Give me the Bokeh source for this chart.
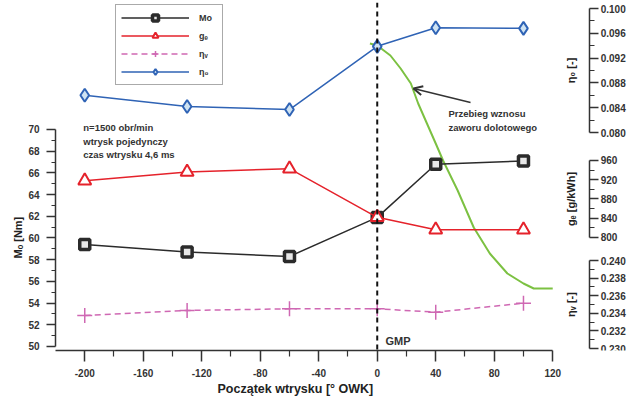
import numpy as np
from bokeh.plotting import figure
from bokeh.models import (Range1d, LinearAxis, FixedTicker, PrintfTickFormatter,
                          Span, Label, Arrow, OpenHead, Legend, LegendItem, Title)
from bokeh.embed import file_html
from bokeh.resources import INLINE
import math

# ---------------- data ----------------
start_deg = [-200, -130, -60, 0, 40, 100]
mo_nm = [59.4, 58.7, 58.3, 61.9, 66.8, 67.1]
ge_gkwh = [918, 936, 943, 842, 816, 816]
eta_v = [0.23375, 0.23432, 0.23451, 0.23451, 0.23413, 0.23515]
eta_0 = [0.0860, 0.0842, 0.0837, 0.0939, 0.0969, 0.0968]

lift_deg = [-5, 0, 9, 16, 23, 28, 34, 40, 45, 55, 66, 77, 89, 100, 107, 120]
lift_mm = [9.8, 9.72, 9.32, 8.8, 8.2, 7.4, 6.6, 5.8, 5.12, 3.92, 2.44, 1.4, 0.6, 0.2, 0.0, 0.0]

x_ticks = [-200, -160, -120, -80, -40, 0, 40, 80, 120]
mo_ticks = [50, 52, 54, 56, 58, 60, 62, 64, 66, 68, 70]
eta0_ticks = [0.080, 0.084, 0.088, 0.092, 0.096, 0.100]
ge_ticks = [800, 840, 880, 920, 960]
etav_ticks = [0.230, 0.232, 0.234, 0.236, 0.238, 0.240]

FONT = "Liberation Sans"
AX = "#333333"

X_END = 172.5        # frame reaches the right edge of the canvas
X_RIGHT_AXES = 145.3  # where the three right-hand axes stand
p = figure(width=629, height=406, output_backend="svg", toolbar_location=None,
           x_range=Range1d(-220, X_END), y_range=Range1d(49.631, 81.705),
           x_axis_type=None, y_axis_type=None,
           min_border_left=55, min_border_right=0, min_border_top=2, min_border_bottom=56)
p.outline_line_color = None
p.background_fill_color = "white"
p.border_fill_color = "white"
p.extra_y_ranges = {
    "eta0": Range1d(0.044839, 0.100968),
    "ge": Range1d(565.2, 1288.3),
    "etav": Range1d(0.229773, 0.269318),
    "lift": Range1d(-2.48, 11.44),
}


def minor_between(ticks, n=2):
    out = []
    for a, b in zip(ticks[:-1], ticks[1:]):
        step = (b - a) / n
        for k in range(1, n):
            out.append(a + k * step)
    return out


def style(ax, tick_out, minor_out, standoff):
    ax.axis_line_color = AX
    ax.axis_line_width = 1.5
    ax.major_tick_line_color = AX
    ax.major_tick_line_width = 1.5
    ax.minor_tick_line_color = AX
    ax.minor_tick_line_width = 1.2
    ax.major_tick_in = 0
    ax.minor_tick_in = 0
    ax.major_tick_out = tick_out
    ax.minor_tick_out = minor_out
    ax.major_label_standoff = standoff
    ax.major_label_text_font = FONT
    ax.major_label_text_font_style = "bold"
    ax.major_label_text_font_size = "10px"
    ax.major_label_text_color = AX


def title(x, y, txt, rn="default", angle=0.0):
    p.add_layout(Label(x=x, y=y, y_range_name=rn, text=txt, angle=angle,
                       text_font=FONT, text_font_style="bold", text_font_size="11px",
                       text_color="#222222", text_align="center", text_baseline="middle"))


# left axis
left = LinearAxis(bounds=(50 - 1e-6, 70 + 1e-6),
                  ticker=FixedTicker(ticks=mo_ticks, minor_ticks=minor_between(mo_ticks)),
                  formatter=PrintfTickFormatter(format="%d"))
style(left, 9, 4, 7)
p.add_layout(left, "left")

# bottom axis
bottom = LinearAxis(bounds=(-219.9, 120 + 1e-6),
                    ticker=FixedTicker(ticks=x_ticks, minor_ticks=minor_between(x_ticks)),
                    formatter=PrintfTickFormatter(format="%d"))
style(bottom, 11, 6, 7)
p.add_layout(bottom, "below")

# right axes (all at same x location)
for name, ticks, fmt in [("eta0", eta0_ticks, "%.3f"), ("ge", ge_ticks, "%d"), ("etav", etav_ticks, "%.3f")]:
    span = ticks[-1] - ticks[0]
    ax = LinearAxis(y_range_name=name,
                    bounds=(ticks[0] - span * 1e-6, ticks[-1] + span * 1e-6),
                    ticker=FixedTicker(ticks=ticks, minor_ticks=minor_between(ticks)),
                    formatter=PrintfTickFormatter(format=fmt),
                    fixed_location=X_RIGHT_AXES)
    style(ax, 9, 5, 2)
    p.add_layout(ax, "right")

# axis titles (outer ones as side-panel titles)
p.add_layout(Title(text="Mₒ [Nm]", align="left", offset=92, standoff=4,
                   text_font=FONT, text_font_style="bold", text_font_size="11px",
                   text_color="#222222"), "left")
p.add_layout(Title(text="Początek wtrysku [° OWK]", align="left", offset=162, standoff=1,
                   text_font=FONT, text_font_style="bold", text_font_size="12.5px",
                   text_color="#222222"), "below")
title(132.8, 0.090, "η₀ [-]", "eta0", math.pi / 2)
title(132.8, 880, "gₑ [g/kWh]", "ge", math.pi / 2)
title(132.8, 0.235, "ηᵥ [-]", "etav", math.pi / 2)

# vertical dashed line at GMP
p.add_layout(Span(location=0, dimension="height", line_color="#111111",
                  line_width=2, line_dash="5 4"))

# valve lift curve
p.line(lift_deg, lift_mm, y_range_name="lift", line_color="#7cc142", line_width=2)

# series
r_mo_l = p.line(start_deg, mo_nm, line_color="#2b2b2b", line_width=1.5)
r_mo_m = p.scatter(start_deg, mo_nm, marker="square", size=10, line_width=3.5,
                   line_color="#2b2b2b", fill_color="#e8e8e8")

r_ge_l = p.line(start_deg, ge_gkwh, y_range_name="ge", line_color="#e5222b", line_width=1.5)
r_ge_m = p.scatter(start_deg, ge_gkwh, y_range_name="ge", marker="triangle", size=13,
                   line_width=2, line_color="#e5222b", fill_color="white")

r_ev_l = p.line(start_deg, eta_v, y_range_name="etav", line_color="#cf68b3",
                line_width=1.5, line_dash="6 4")
r_ev_m = p.scatter(start_deg, eta_v, y_range_name="etav", marker="cross", size=15,
                   line_width=1.5, line_color="#cf68b3")

r_e0_l = p.line(start_deg, eta_0, y_range_name="eta0", line_color="#2f63b5", line_width=1.5)
r_e0_m = p.scatter(start_deg, eta_0, y_range_name="eta0", marker="diamond", size=13,
                   line_width=2, line_color="#2f63b5", fill_color="#cfe3f2")

# legend
legend = Legend(items=[
    LegendItem(label="Mo", renderers=[r_mo_l, r_mo_m]),
    LegendItem(label="gₑ", renderers=[r_ge_l, r_ge_m]),
    LegendItem(label="ηᵥ", renderers=[r_ev_l, r_ev_m]),
    LegendItem(label="η₀", renderers=[r_e0_l, r_e0_m]),
], location=(60, 265), glyph_width=68, glyph_height=15, label_height=15,
    spacing=3, padding=5, margin=0, label_standoff=10, label_width=18,
    border_line_color="#555555", border_line_width=1.5,
    label_text_font=FONT, label_text_font_size="9px", label_text_font_style="bold",
    label_text_color="#333333", background_fill_alpha=1.0)
p.add_layout(legend)

# annotations
info = ["n=1500 obr/min", "wtrysk pojedynczy", "czas wtrysku 4,6 ms"]
for txt, yy in zip(info, [70.18, 68.89, 67.70]):
    p.add_layout(Label(x=-201, y=yy, text=txt, text_font=FONT, text_font_style="bold",
                       text_font_size="9.5px", text_color="#333333", text_baseline="middle"))

p.add_layout(Label(x=5.6, y=50.5, text="GMP", text_font=FONT, text_font_style="bold",
                   text_font_size="11px", text_color="#333333", text_baseline="middle"))

p.add_layout(Label(x=48.7, y=7.0, y_range_name="lift", text="Przebieg wznosu",
                   text_font=FONT, text_font_style="bold", text_font_size="9.5px",
                   text_color="#333333", text_baseline="middle"))
p.add_layout(Label(x=48.7, y=6.44, y_range_name="lift", text="zaworu dolotowego",
                   text_font=FONT, text_font_style="bold", text_font_size="9.5px",
                   text_color="#333333", text_baseline="middle"))
p.add_layout(Arrow(x_start=63.8, y_start=7.44, x_end=24.8, y_end=8.0, y_range_name="lift",
                   line_color="#333333", line_width=1.5,
                   end=OpenHead(size=9, line_width=2, line_color="#333333")))

open("out.html", "w").write(file_html(p, INLINE))
